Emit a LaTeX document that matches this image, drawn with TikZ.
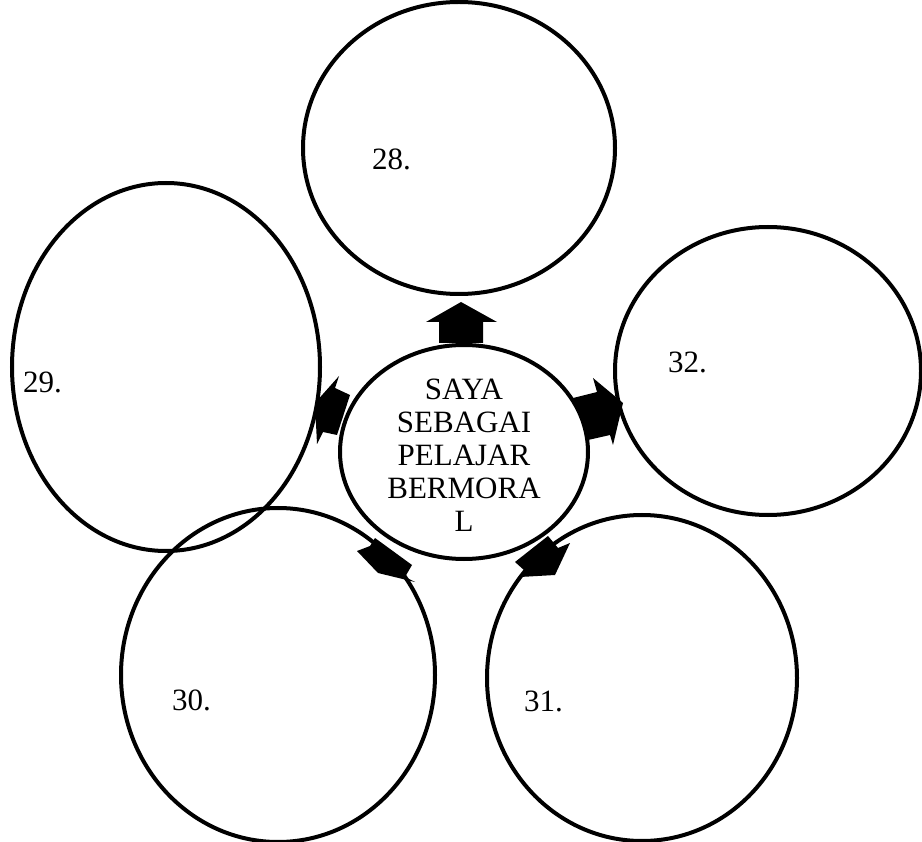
\documentclass[tikz,border=0pt]{standalone}
\usepackage{fontspec}
\setmainfont{Liberation Serif}
\usetikzlibrary{shapes.geometric}
\begin{document}
\begin{tikzpicture}[x=1pt,y=-1pt,
  bubble/.style={draw=black,line width=4pt,ellipse,inner sep=0pt,fill=none},
  lbl/.style={font=\fontsize{31}{33}\selectfont,inner sep=0pt,anchor=base west},
  blockarrow/.style={fill=black,draw=none}]
\useasboundingbox (0,0) rectangle (922,842);
\clip (0,0) rectangle (922,842);
% bubbles
\node[bubble,minimum width=312pt,minimum height=292pt] (c28) at (459,148) {};
\node[bubble,minimum width=308pt,minimum height=368pt] (c29) at (166,367) {};
\node[bubble,minimum width=306pt,minimum height=288pt] (c32) at (768,371) {};
\node[bubble,minimum width=314pt,minimum height=334pt] (c30) at (278,675) {};
\node[bubble,minimum width=310pt,minimum height=326pt] (c31) at (642,678) {};
\node[bubble,minimum width=248pt,minimum height=214pt,fill=white] (hub) at (464,452) {};
% labels
\node[lbl] (t28) at (372,170) {28.};
\node[lbl] (t29) at (23,393) {29.};
\node[lbl] (t32) at (668,373) {32.};
\node[lbl] (t30) at (172,710) {30.};
\node[lbl] (t31) at (524,711) {31.};
\node[font=\fontsize{31}{33}\selectfont,align=center,inner sep=0pt] (hubtext) at (464,455)
  {SAYA\\SEBAGAI\\PELAJAR\\BERMORA\\L};
% block arrows
\fill[blockarrow] (439,343) -- (439,322) -- (426,322) -- (461,302) -- (497,322) -- (483,322) -- (483,343) -- cycle;
\fill[blockarrow] (573,398) -- (597,392) -- (593,378) -- (623,403) -- (613,445) -- (610,435) -- (588,440) -- cycle;
\fill[blockarrow] (350,395) -- (335,388) -- (339,376) -- (315,403) -- (317,444) -- (323,432) -- (337,435) -- cycle;
\fill[blockarrow] (375,538) -- (412,565) -- (405,577) -- (415,582) -- (378,573) -- (357,551) -- (370,546) -- cycle;
\fill[blockarrow] (548,536) -- (558,548) -- (570,543) -- (555,575) -- (520,577) -- (525,571) -- (515,562) -- cycle;
\end{tikzpicture}
\end{document}
